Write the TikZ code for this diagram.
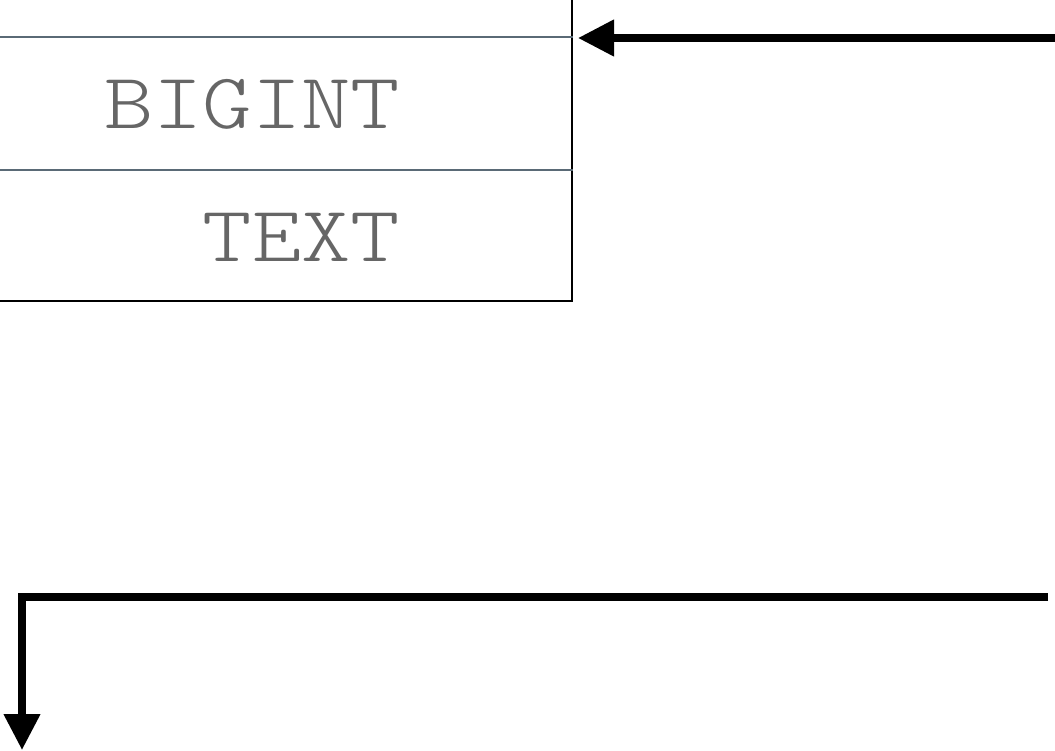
\documentclass[tikz,border=0pt]{standalone}
\usepackage{fontspec}
\newfontfamily\typefont[FakeStretch=1.19]{Latin Modern Mono Light}
\usetikzlibrary{arrows.meta}

\definecolor{rowgray}{RGB}{90,106,118}
\definecolor{typegray}{RGB}{102,102,102}

\tikzset{
  rowline/.style={draw=rowgray,line width=2.2pt},
  coltype/.style={font=\fontsize{79}{79}\typefont,text=typegray,inner sep=0pt,anchor=base east},
}

\begin{document}
\begin{tikzpicture}[x=1pt,y=-1pt,->,>={Triangle[length=36pt,width=35pt]},line width=7.5pt]

\useasboundingbox (0,0) rectangle (1055,750);
\clip (0,0) rectangle (1055,750);

\node (tbl) [draw,line width=2.5pt,inner sep=0pt,minimum width=613pt,minimum height=342pt,anchor=south east] at (573,302) {};

\coordinate (r1) at (0,37);
\coordinate (r2) at (0,170);
\path [rowline,-] (tbl.west |- r1) -- (tbl.east |- r1);
\path [rowline,-] (tbl.west |- r2) -- (tbl.east |- r2);

\node (bigint) [coltype] at (404,128) {BIGINT};
\node (text) [coltype] at (404,261) {TEXT};

\coordinate (fromright) at (1062,38);
\coordinate (bstart) at (1048,597);
\coordinate (bend) at (22,750);

\draw [shorten >=5pt] (fromright) -- (tbl.east |- fromright);
\draw (bstart) -- (bend |- bstart) -- (bend);

\end{tikzpicture}
\end{document}
